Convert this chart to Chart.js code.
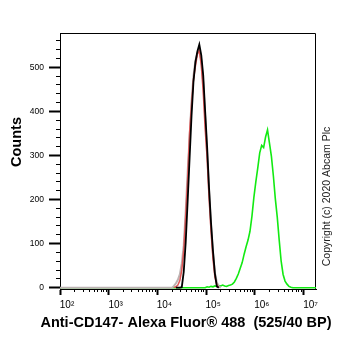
<!DOCTYPE html>
<html><head><meta charset="utf-8">
<script src="https://cdn.jsdelivr.net/npm/chart.js@4"></script>
<style>html,body{margin:0;padding:0;background:#fff;}canvas{display:block;}</style>
</head><body>
<canvas id="c" width="362" height="351"></canvas>
<script>
// ---- data (x as log10 of fluorescence, y as counts) ----
const blackExp = [4.38,4.42,4.46,4.50,4.54,4.58,4.62,4.66,4.70,4.74,4.78,4.82,4.86,4.90,4.94,4.98,5.02,5.06,5.10,5.14,5.18,5.22,5.26];
const blackCounts = [0,0,0,1,36,102,195,293,390,468,512,536,552,528,482,400,320,226,148,84,32,3,0];

const redExp = [4.34,4.38,4.42,4.46,4.50,4.54,4.58,4.62,4.66,4.70,4.74,4.78,4.82,4.86,4.90,4.94,4.98,5.02,5.06,5.10,5.14,5.18,5.22,5.26];
const redCounts = [0,2,6,16,40,84,162,246,352,415,472,503,530,538,505,445,360,295,205,130,66,24,6,0];

const grayExp = [2.00,4.30,4.34,4.38,4.42,4.46,4.50,4.54,4.58,4.62,4.66,4.70,4.74,4.78,4.82,4.86,4.90,4.94,4.98,5.02,5.06,5.10,5.14,5.18,5.22,5.26,5.30];
const grayCounts = [0,0,4,10,18,30,55,96,172,262,340,422,480,515,532,540,516,466,388,305,218,140,78,34,12,3,0];

const greenExp = [2.00,4.98,5.02,5.06,5.10,5.14,5.18,5.22,5.26,5.30,5.34,5.38,5.42,5.46,5.50,5.54,5.58,5.62,5.66,5.70,5.74,5.78,5.82,5.86,5.90,5.94,5.98,6.02,6.06,6.10,6.14,6.18,6.22,6.26,6.30,6.34,6.38,6.42,6.46,6.50,6.54,6.58,6.62,6.66,6.70,6.74,6.78,6.82,6.86,6.90,7.26];
const greenCounts = [0,0,2,1,3,2,4,3,5,4,6,4,3,5,6,8,13,21,31,44,57,76,93,108,128,162,205,240,272,306,323,318,342,358,328,298,254,202,160,108,60,30,15,8,3,1,0,0,0,0,0];

// ---- axes / text ----
const xMajorExp = [2,3,4,5,6,7];
const xTickLabels = ['10²','10³','10⁴','10⁵','10⁶','10⁷'];
const yMajorTicks = [0,100,200,300,400,500];
const yMinorTicks = [20,40,60,80,120,140,160,180,220,240,260,280,320,340,360,380,420,440,460,480,520,540,560];
const xTitle = 'Anti-CD147- Alexa Fluor® 488  (525/40 BP)';
const yTitle = 'Counts';
const copyrightText = 'Copyright (c) 2020 Abcam Plc';

const FONT = "'Liberation Sans', Arial, sans-serif";
const X_MIN = 100, X_MAX = 1.8e7, Y_MIN = -3, Y_MAX = 578;

const xMinorValues = [];
for (let n = 2; n <= 6; n++) for (let m = 2; m <= 9; m++) xMinorValues.push(m * Math.pow(10, n));

function pts(exps, counts){ return exps.map((e,i)=>({x: Math.pow(10,e), y: counts[i]})); }

const framePlugin = {
  id: 'frame',
  beforeDatasetsDraw(chart){
    const {ctx, chartArea:a} = chart;
    ctx.save();
    ctx.strokeStyle = '#000'; ctx.lineWidth = 1;
    ctx.beginPath();
    ctx.moveTo(Math.round(a.left)+0.5, Math.round(a.bottom)+0.5);
    ctx.lineTo(Math.round(a.left)+0.5, Math.round(a.top)+0.5);
    ctx.lineTo(Math.round(a.right)-0.5, Math.round(a.top)+0.5);
    ctx.lineTo(Math.round(a.right)-0.5, Math.round(a.bottom)+0.5);
    ctx.stroke();
    ctx.restore();
  },
  afterDraw(chart){
    const {ctx} = chart;
    ctx.save();
    ctx.fillStyle = '#000';
    ctx.textAlign = 'center'; ctx.textBaseline = 'middle';
    ctx.font = "bold 14.5px " + FONT;
    ctx.fillText(xTitle, 186, 323);
    ctx.save();
    ctx.translate(16.5, 142); ctx.rotate(-Math.PI/2);
    ctx.fillText(yTitle, 0, 0);
    ctx.restore();
    ctx.font = "10.5px " + FONT;
    ctx.fillStyle = '#222';
    ctx.translate(327, 196.5); ctx.rotate(-Math.PI/2);
    ctx.fillText(copyrightText, 0, 0);
    ctx.restore();
  }
};

new Chart(document.getElementById('c'), {
  type: 'line',
  data: {
    datasets: [
      {label:'black', data: pts(blackExp, blackCounts), borderColor:'#000000', borderWidth:1.8, order:0},
      {label:'red', data: pts(redExp, redCounts), borderColor:'#e05555', borderWidth:1.5, order:1},
      {label:'gray', data: pts(grayExp, grayCounts), borderColor:'#bdb3b3', borderWidth:2, order:2},
      {label:'green', data: pts(greenExp, greenCounts), borderColor:'#12ea12', borderWidth:1.6, order:3}
    ]
  },
  options: {
    responsive: false, animation: false,
    layout: {padding: {left: 0, top: 33, right: 46, bottom: 42}},
    elements: {point: {radius: 0}, line: {tension: 0}},
    plugins: {legend: {display: false}, tooltip: {enabled: false}},
    scales: {
      x: {
        type: 'logarithmic', position: 'bottom', min: X_MIN, max: X_MAX, weight: 1,
        afterBuildTicks: ax => { ax.ticks = xMajorExp.map(e => ({value: Math.pow(10, e)})); },
        afterFit: ax => { ax.height = 20; },
        ticks: {autoSkip: false, maxRotation: 0, labelOffset: 7, padding: 4, color: '#000',
          font: {family: FONT, size: 10}, callback: (v, i) => xTickLabels[i]},
        grid: {drawOnChartArea: false, drawTicks: true, tickLength: 6, tickWidth: 2, tickColor: '#000'},
        border: {display: true, color: '#000', width: 1}
      },
      xMinor: {
        type: 'logarithmic', position: 'bottom', min: X_MIN, max: X_MAX, weight: 0,
        afterBuildTicks: ax => { ax.ticks = xMinorValues.map(v => ({value: v})); },
        afterFit: ax => { ax.height = 0; },
        ticks: {display: false},
        grid: {drawOnChartArea: false, drawTicks: true, tickLength: 3, tickWidth: 1, tickColor: '#000'},
        border: {display: false}
      },
      y: {
        type: 'linear', position: 'left', min: Y_MIN, max: Y_MAX, weight: 1,
        afterBuildTicks: ax => { ax.ticks = yMajorTicks.map(v => ({value: v})); },
        afterFit: ax => { ax.width = 60; },
        ticks: {padding: 5, color: '#000', font: {family: FONT, size: 8.5}},
        grid: {drawOnChartArea: false, drawTicks: true, tickLength: 11, tickWidth: 2, tickColor: '#000'},
        border: {display: true, color: '#000', width: 1}
      },
      yMinor: {
        type: 'linear', position: 'left', min: Y_MIN, max: Y_MAX, weight: 0,
        afterBuildTicks: ax => { ax.ticks = yMinorTicks.map(v => ({value: v})); },
        afterFit: ax => { ax.width = 0; },
        ticks: {display: false},
        grid: {drawOnChartArea: false, drawTicks: true, tickLength: 4, tickWidth: 1, tickColor: '#000'},
        border: {display: false}
      }
    }
  },
  plugins: [framePlugin]
});
</script>
</body></html>
